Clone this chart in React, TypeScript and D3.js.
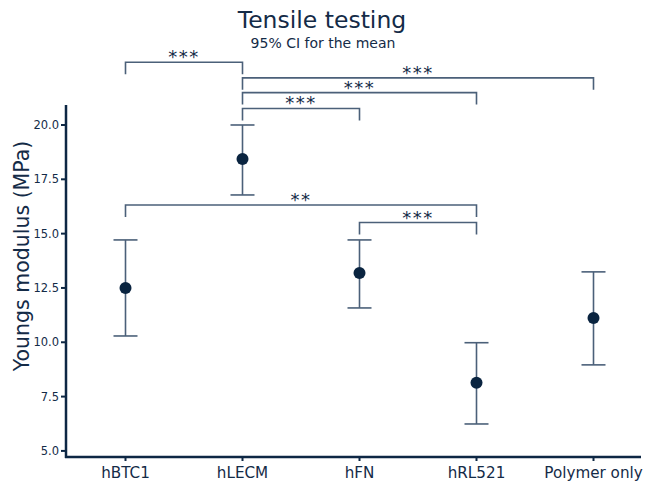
import React from 'react';
import * as d3 from 'd3';

const categories = ['hBTC1', 'hLECM', 'hFN', 'hRL521', 'Polymer only'];
const means = [12.5, 18.44, 13.19, 8.14, 11.12];
const lowerCI = [10.29, 16.78, 11.58, 6.24, 8.96];
const upperCI = [14.71, 20.0, 14.71, 9.98, 13.24];
const yTicks = [5, 7.5, 10, 12.5, 15, 17.5, 20];

const bracketFrom = ['hBTC1', 'hLECM', 'hLECM', 'hLECM', 'hBTC1', 'hFN'];
const bracketTo = ['hLECM', 'Polymer only', 'hRL521', 'hFN', 'hRL521', 'hRL521'];
const bracketLevel = [22.89, 22.17, 21.49, 20.76, 16.32, 15.51];
const bracketLabel = ['***', '***', '***', '***', '**', '***'];

const W = 645;
const H = 481;
const axisColor = '#0d2744';
const barColor = '#4b6079';
const pointColor = '#0a2440';
const textColor = '#142b47';
const font = 'Verdana, "DejaVu Sans", sans-serif';

export default function App() {
  const x = d3.scalePoint<string>().domain(categories).range([67, 652]).padding(0.5);
  const y = d3.scaleLinear().domain([4.72, 20.92]).range([457, 105]);
  const xAxisY = 457;
  const yAxisX = 66;
  const cap = 12;
  const drop = 12;

  return (
    <svg width={W} height={H} style={{ position: 'absolute', left: 0, top: 0, background: '#fff' }}>
      {/* titles */}
      <text x={322} y={28} textAnchor="middle" fontFamily={font} fontSize={23.5} fill={textColor}>Tensile testing</text>
      <text x={323} y={48} textAnchor="middle" fontFamily={font} fontSize={14} fill={textColor}>95% CI for the mean</text>

      {/* y axis */}
      <line x1={yAxisX} x2={yAxisX} y1={105} y2={xAxisY + 1} stroke={axisColor} strokeWidth={2.5} />
      {yTicks.map((t) => (
        <g key={t}>
          <line x1={yAxisX - 5} x2={yAxisX} y1={y(t)} y2={y(t)} stroke={axisColor} strokeWidth={2} />
          <text x={yAxisX - 7} y={y(t)} dy="0.35em" textAnchor="end" fontFamily={font} fontSize={11.5} fill={textColor}>
            {t.toFixed(1)}
          </text>
        </g>
      ))}
      <text
        transform={`translate(22,${256}) rotate(-90)`}
        textAnchor="middle"
        fontFamily={font}
        fontSize={20.5}
        fill={textColor}
        dy="0.35em"
      >
        Youngs modulus (MPa)
      </text>

      {/* x axis */}
      <line x1={yAxisX - 1} x2={641} y1={xAxisY} y2={xAxisY} stroke={axisColor} strokeWidth={2.5} />
      {categories.map((c) => (
        <g key={c}>
          <line x1={x(c)} x2={x(c)} y1={xAxisY} y2={xAxisY + 4} stroke={axisColor} strokeWidth={2} />
          <text x={x(c)} y={473} dy="0.35em" textAnchor="middle" fontFamily={font} fontSize={15.2} fill={textColor}>
            {c}
          </text>
        </g>
      ))}

      {/* error bars */}
      {categories.map((c, i) => {
        const cx = x(c) as number;
        return (
          <g key={'e' + c} stroke={barColor} strokeWidth={1.6}>
            <line x1={cx} x2={cx} y1={y(lowerCI[i])} y2={y(upperCI[i])} />
            <line x1={cx - cap} x2={cx + cap} y1={y(lowerCI[i])} y2={y(lowerCI[i])} />
            <line x1={cx - cap} x2={cx + cap} y1={y(upperCI[i])} y2={y(upperCI[i])} />
          </g>
        );
      })}
      {categories.map((c, i) => (
        <circle key={'p' + c} cx={x(c)} cy={y(means[i])} r={6} fill={pointColor} />
      ))}

      {/* significance brackets */}
      {bracketFrom.map((f, i) => {
        const x1 = x(f) as number;
        const x2 = x(bracketTo[i]) as number;
        const by = y(bracketLevel[i]);
        return (
          <g key={'b' + i}>
            <path
              d={`M${x1},${by + drop}V${by}H${x2}V${by + drop}`}
              fill="none"
              stroke={barColor}
              strokeWidth={1.6}
            />
            <text
              x={(x1 + x2) / 2}
              y={by + 1}
              textAnchor="middle"
              fontFamily={font}
              fontSize={18}
              letterSpacing={1.5}
              fill={textColor}
            >
              {bracketLabel[i]}
            </text>
          </g>
        );
      })}
    </svg>
  );
}
